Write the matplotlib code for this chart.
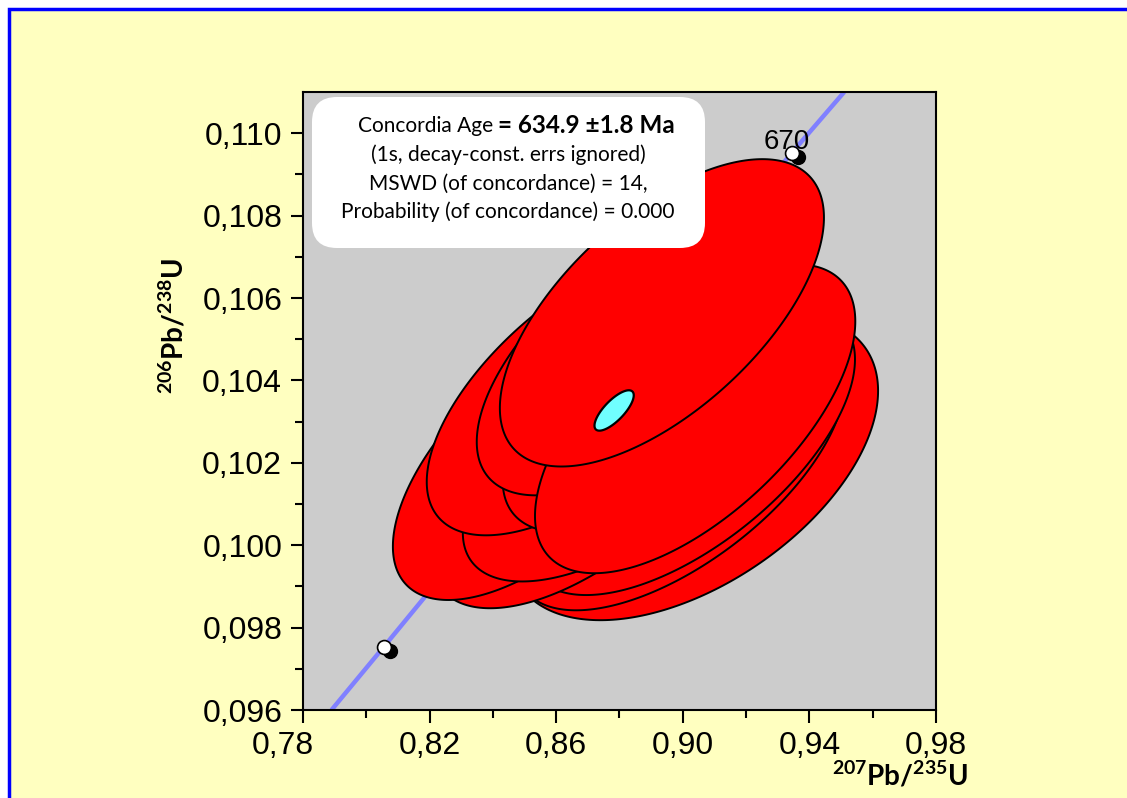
import numpy as np
import matplotlib
matplotlib.use('Agg')
import matplotlib.pyplot as plt
import matplotlib.transforms as mtransforms
from matplotlib.patches import Rectangle, FancyBboxPatch
from matplotlib.ticker import FuncFormatter, FixedLocator

# error ellipses: centre, half-extent in x and y, correlation
ell_x = [0.9032, 0.8991, 0.9023, 0.8710, 0.8558, 0.8811, 0.8697, 0.8937, 0.8855, 0.9039, 0.8934]
ell_y = [0.10189, 0.10181, 0.10230, 0.10198, 0.10218, 0.10232, 0.10375, 0.10370, 0.10472, 0.10307, 0.10564]
ell_sx = [0.0585, 0.0521, 0.0521, 0.0506, 0.0474, 0.0506, 0.0506, 0.0506, 0.0506, 0.0506, 0.0512]
ell_sy = [0.00371, 0.00339, 0.00351, 0.00351, 0.00351, 0.00320, 0.00351, 0.00339, 0.00351, 0.00375, 0.00373]
ell_rho = [0.50, 0.63, 0.63, 0.63, 0.63, 0.63, 0.63, 0.63, 0.63, 0.63, 0.62]

# concordia age ellipse
age_x, age_y, age_sx, age_sy, age_rho = 0.8783, 0.10327, 0.0062, 0.00049, 0.75

# concordia curve and age marks (600 and 670 Ma)
conc_x = [0.7890, 0.8056, 0.8694, 0.9345, 0.9510]
conc_y = [0.0960, 0.09754, 0.10350, 0.10953, 0.1110]
mark_x = [0.8056, 0.9345]
mark_y = [0.09754, 0.10953]
mark_lab = ['', '670']

x_ticks = [0.78, 0.82, 0.86, 0.90, 0.94, 0.98]
x_minor = [0.80, 0.84, 0.88, 0.92, 0.96]
y_ticks = [0.096, 0.098, 0.100, 0.102, 0.104, 0.106, 0.108, 0.110]
y_minor = [0.097, 0.099, 0.101, 0.103, 0.105, 0.107, 0.109]

plt.rcParams['mathtext.fontset'] = 'custom'
plt.rcParams['mathtext.rm'] = 'Lato'
plt.rcParams['mathtext.bf'] = 'Lato:bold'

fig = plt.figure(figsize=(11.27, 7.98), dpi=100)
fig.patch.set_facecolor('white')
# yellow panel with blue frame running off the right and bottom
fig.patches.append(Rectangle((9 / 1127, -0.05), 1.2, 1 - 9 / 798 + 0.05, transform=fig.transFigure,
                             fc='#ffffc0', ec='#0000ff', lw=2.5, zorder=-10))

ax = fig.add_axes([303 / 1127, 1 - 710 / 798, 633 / 1127, 618 / 798])
ax.set_facecolor('#cccccc')
ax.set_xlim(0.78, 0.98)
ax.set_ylim(0.096, 0.111)

ax.plot(conc_x, conc_y, color='#8080ff', lw=3.2, zorder=1, solid_capstyle='butt')

t = np.linspace(0, 2 * np.pi, 300)
for cx, cy, sx, sy, r in zip(ell_x, ell_y, ell_sx, ell_sy, ell_rho):
    ex = cx + sx * np.cos(t)
    ey = cy + sy * (r * np.cos(t) + np.sqrt(1 - r ** 2) * np.sin(t))
    ax.fill(ex, ey, fc='#ff0000', ec='black', lw=1.4, zorder=2)
ex = age_x + age_sx * np.cos(t)
ey = age_y + age_sy * (age_rho * np.cos(t) + np.sqrt(1 - age_rho ** 2) * np.sin(t))
ax.fill(ex, ey, fc='#70ffff', ec='black', lw=1.6, zorder=3)

shadow = mtransforms.offset_copy(ax.transData, fig=fig, x=6, y=-4, units='dots')
ax.plot(mark_x, mark_y, 'o', ms=10, mfc='black', mec='black', transform=shadow, zorder=4)
ax.plot(mark_x, mark_y, 'o', ms=10, mfc='white', mec='black', mew=1.2, zorder=5)
for x, y, s in zip(mark_x, mark_y, mark_lab):
    ax.annotate(s, (x, y), xytext=(-3.5, 2.5), textcoords='offset points', ha='center', va='baseline',
                fontsize=20, family='Liberation Sans', zorder=4.5)

for sp in ax.spines.values():
    sp.set_linewidth(1.5)
ax.xaxis.set_major_locator(FixedLocator(x_ticks))
ax.xaxis.set_minor_locator(FixedLocator(x_minor))
ax.yaxis.set_major_locator(FixedLocator(y_ticks))
ax.yaxis.set_minor_locator(FixedLocator(y_minor))
ax.xaxis.set_major_formatter(FuncFormatter(lambda v, p: f'{v:.2f}'.replace('.', ',')))
ax.yaxis.set_major_formatter(FuncFormatter(lambda v, p: f'{v:.3f}'.replace('.', ',')))
ax.tick_params(which='both', direction='out', width=1.5)
ax.tick_params(which='major', length=9, labelsize=23, pad=6)
ax.tick_params(which='minor', length=6)
fig.canvas.draw()
for lab in ax.get_xticklabels() + ax.get_yticklabels():
    lab.set_family('Liberation Sans')
# first x label sits left of its tick, as in the original
first = ax.xaxis.get_major_ticks()[0].label1
first.set_transform(first.get_transform() + mtransforms.ScaledTranslation(-0.2, 0, fig.dpi_scale_trans))

ax.set_xlabel(r'$\mathbf{^{207}Pb/^{235}U}$', fontsize=20)
ax.xaxis.set_label_coords(1.05, -0.083)
ax.xaxis.label.set_ha('right')
ax.set_ylabel(r'$\mathbf{^{206}Pb/^{238}U}$', fontsize=20)
ax.yaxis.set_label_coords(-0.18, 0.621)

# results box
box = FancyBboxPatch((3.12 + 0.25, 5.50 + 0.25), 3.93 - 0.5, 1.51 - 0.5, boxstyle='round,pad=0.25',
                     transform=fig.dpi_scale_trans, fc='white', ec='none', zorder=6)
fig.patches.append(box)
tf = fig.dpi_scale_trans
fig.text(4.98, 7.98 - 1.26, 'Concordia Age ', transform=tf, ha='right', va='center',
         fontsize=15, family='Lato', zorder=7)
fig.text(4.98, 7.98 - 1.26, '= 634.9 \u00b11.8 Ma', transform=tf, ha='left', va='center',
         fontsize=17.5, family='Lato', weight='bold', zorder=7)
for yy, s in zip([1.55, 1.84, 2.12], ['(1s, decay-const. errs ignored)', 'MSWD (of concordance) = 14,',
                                     'Probability (of concordance) = 0.000']):
    fig.text(5.08, 7.98 - yy, s, transform=tf, ha='center', va='center', fontsize=15, family='Lato', zorder=7)

fig.savefig('out.png', dpi=100)
